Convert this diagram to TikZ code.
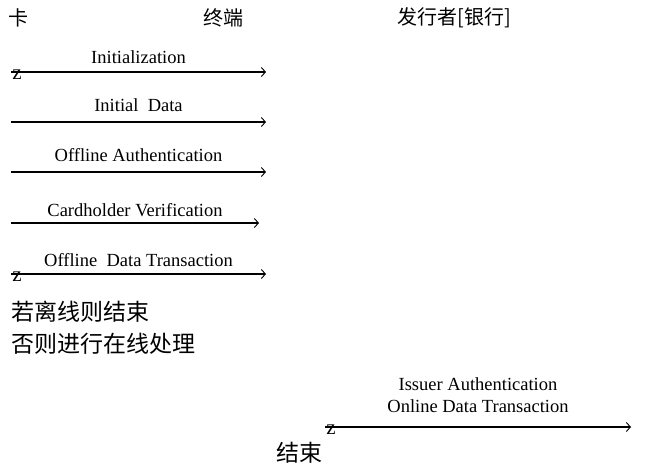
\documentclass[tikz,border=0pt]{standalone}
\usepackage{fontspec}
\setmainfont{Liberation Serif}
\newfontfamily\cjk{Noto Sans CJK SC}
\usetikzlibrary{arrows.meta}
\tikzset{
  headtext/.style={font=\cjk\fontsize{20}{24}\selectfont, inner sep=0pt},
  cjktext/.style={font=\cjk\fontsize{23}{27}\selectfont, inner sep=0pt},
  msglabel/.style={font=\fontsize{18.5}{20}\selectfont, inner sep=0pt},
  zmark/.style={font=\fontsize{21}{22}\selectfont, inner sep=0pt},
  msg/.style={line width=1.2pt, -{Straight Barb[length=4pt,width=9pt,line width=0.9pt]}},
}
\begin{document}
\begin{tikzpicture}[x=1pt,y=-1pt]
\useasboundingbox (0,0) rectangle (646,464);
% headers
\node[headtext] (card) at (19,18) {卡};
\node[headtext] (term) at (223,18) {终端};
\node[headtext] (iss) at (454,18) {发行者[银行]};
% arrows
\coordinate (s1) at (11,72);  \coordinate (e1) at (266,72);
\coordinate (s2) at (11,122); \coordinate (e2) at (266,122);
\coordinate (s3) at (11,172); \coordinate (e3) at (266,172);
\coordinate (s4) at (11,223); \coordinate (e4) at (259,223);
\coordinate (s5) at (11,274); \coordinate (e5) at (266,274);
\coordinate (s6) at (325,427); \coordinate (e6) at (631,427);
\draw[msg] (s1) -- (e1) node[midway, above=8pt, msglabel] (l1) {Initialization};
\draw[msg] (s2) -- (e2) node[midway, above=10pt, msglabel] (l2) {Initial\ \ Data};
\draw[msg] (s3) -- (e3) node[midway, above=10pt, msglabel] (l3) {Offline Authentication};
\draw[msg] (s4) -- (e4) node[midway, above=6pt, msglabel] (l4) {Cardholder Verification};
\draw[msg] (s5) -- (e5) node[midway, above=7pt, msglabel] (l5) {Offline\ \ Data Transaction};
\draw[msg] (s6) -- (e6) node[midway, above=14pt, msglabel, align=center] (l6) {Issuer Authentication\\[2pt]Online Data Transaction};
\node[zmark] (z1) at (17,75) {z};
\node[zmark] (z5) at (17,277) {z};
\node[zmark] (z6) at (331,430) {z};
% notes
\node[cjktext, anchor=west] (n1) at (11,312) {若离线则结束};
\node[cjktext, anchor=west] (n2) at (11,344) {否则进行在线处理};
\node[cjktext] (end) at (299,453) {结束};
\end{tikzpicture}
\end{document}
